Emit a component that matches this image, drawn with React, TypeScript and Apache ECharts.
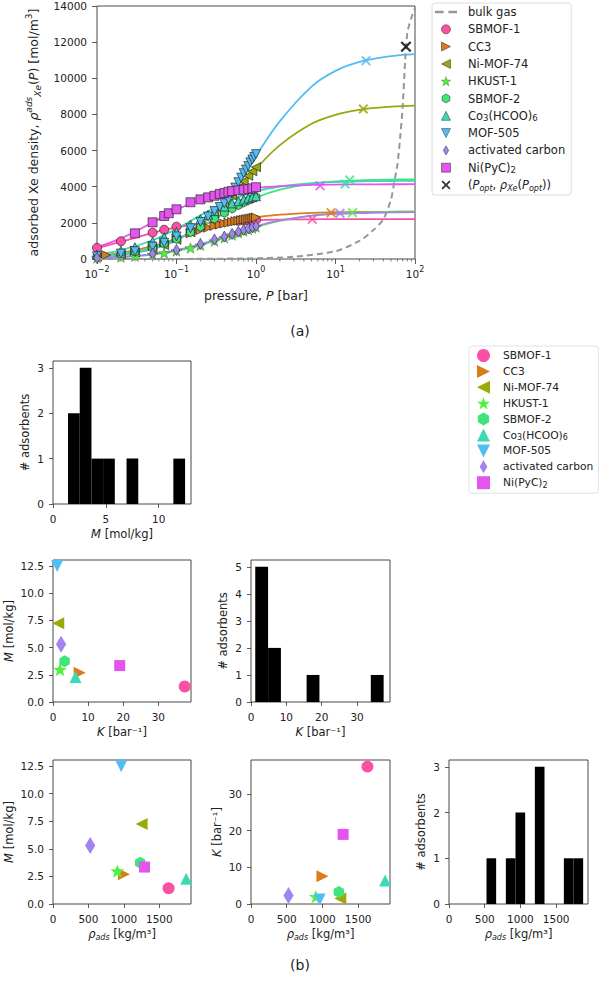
import React, { useEffect, useRef } from 'react';
import * as echarts from 'echarts';

const FONT = 'DejaVu Sans';
const TXT = '#222';

// ---------- materials ----------
const materials = ['SBMOF-1', 'CC3', 'Ni-MOF-74', 'HKUST-1', 'SBMOF-2', 'Co₃(HCOO)₆', 'MOF-505', 'activated carbon', 'Ni(PyC)₂'];
const colors = ['#fc4fa6', '#db7c1b', '#9aa80a', '#4ef23b', '#3fe47c', '#3bd9b5', '#52bdf3', '#a283f0', '#e454ee'];
const bulkColor = '#8e9b9b';

// ---------- (a) measured isotherms [bar], [mol/m3] ----------
const pSBMOF1 = [0.01, 0.02, 0.05, 0.07, 0.1, 0.6, 0.7, 0.8, 0.9, 1.0];
const vSBMOF1 = [620, 980, 1460, 1620, 1790, 2110, 2125, 2140, 2150, 2160];
const pCC3 = [0.013, 0.03, 0.05, 0.07, 0.1, 0.15, 0.2, 0.25, 0.3, 0.35, 0.4, 0.45, 0.5, 0.55, 0.6, 0.65, 0.7, 0.75, 0.8, 0.85, 0.9, 0.95, 1.0];
const vCC3 = [220, 470, 730, 910, 1150, 1420, 1600, 1730, 1830, 1900, 1960, 2010, 2050, 2090, 2120, 2150, 2180, 2200, 2220, 2240, 2260, 2280, 2300];
const pNiMOF74 = [0.01, 0.02, 0.03, 0.05, 0.07, 0.1, 0.15, 0.2, 0.3, 0.4, 0.5, 0.6, 0.7, 0.8, 0.9, 1.0];
const vNiMOF74 = [120, 240, 350, 560, 770, 1060, 1480, 1860, 2500, 3050, 3520, 3930, 4300, 4600, 4850, 5080];
const pHKUST1 = [0.01, 0.02, 0.03, 0.05, 0.07, 0.1, 0.15, 0.2, 0.3, 0.4, 0.5, 0.6, 0.7, 0.8, 0.9, 1.0];
const vHKUST1 = [55, 105, 150, 245, 330, 445, 610, 760, 990, 1170, 1320, 1445, 1545, 1630, 1700, 1765];
const pSBMOF2 = [0.01, 0.02, 0.03, 0.05, 0.07, 0.1, 0.15, 0.2, 0.3, 0.4, 0.5, 0.6, 0.7, 0.8, 0.9, 1.0];
const vSBMOF2 = [140, 270, 400, 630, 840, 1110, 1480, 1780, 2230, 2550, 2790, 2980, 3120, 3240, 3340, 3430];
const pCo3 = [0.01, 0.02, 0.03, 0.05, 0.07, 0.1, 0.15, 0.2, 0.25, 0.3, 0.4, 0.5, 0.6, 0.7, 0.8, 0.9, 1.0];
const vCo3 = [250, 460, 650, 960, 1200, 1500, 1900, 2200, 2450, 2650, 2900, 3080, 3200, 3290, 3360, 3420, 3470];
const pMOF505 = [0.01, 0.02, 0.03, 0.05, 0.07, 0.1, 0.15, 0.2, 0.25, 0.3, 0.35, 0.4, 0.45, 0.5, 0.55, 0.6, 0.65, 0.7, 0.75, 0.8, 0.85, 0.9, 0.95, 1.0];
const vMOF505 = [150, 300, 430, 680, 900, 1250, 1700, 2050, 2350, 2650, 2880, 3080, 3300, 3650, 3950, 4250, 4500, 4750, 4950, 5150, 5350, 5500, 5650, 5800];
const pAC = [0.01, 0.05, 0.1, 0.2, 0.3, 0.4, 0.5, 0.6, 0.7, 0.8, 0.9, 1.0];
const vAC = [60, 300, 500, 830, 1080, 1240, 1390, 1510, 1610, 1690, 1760, 1830];
const pNiPyC2 = [0.03, 0.05, 0.07, 0.08, 0.1, 0.15, 0.2, 0.25, 0.3, 0.35, 0.4, 0.45, 0.5, 0.6, 0.7, 0.8, 0.9, 1.0];
const vNiPyC2 = [1420, 2030, 2380, 2530, 2750, 3140, 3300, 3410, 3500, 3600, 3650, 3720, 3760, 3800, 3835, 3870, 3910, 3970];

// ---------- (a) Langmuir fit curves ----------
const fitP = [0.01, 0.02, 0.05, 0.1, 0.2, 0.5, 1, 2, 5, 10, 20, 50, 100];
const fitSBMOF1 = [603, 947, 1441, 1745, 1950, 2098, 2153, 2181, 2198, 2204, 2207, 2209, 2210];
const fitCC3 = [183, 342, 715, 1123, 1572, 2068, 2312, 2456, 2552, 2586, 2603, 2613, 2617];
const fitNiMOF74 = [118, 233, 559, 1050, 1870, 3521, 4988, 6300, 7481, 7980, 8255, 8430, 8489];
const fitHKUST1 = [52, 102, 240, 440, 754, 1320, 1760, 2112, 2400, 2514, 2576, 2614, 2627];
const fitSBMOF2 = [141, 274, 626, 1097, 1757, 2752, 3392, 3838, 4168, 4290, 4354, 4393, 4407];
const fitCo3 = [257, 485, 1037, 1674, 2414, 3287, 3737, 4012, 4197, 4262, 4296, 4316, 4323];
const fitMOF505 = [113, 225, 545, 1041, 1908, 3817, 5725, 7633, 9542, 10409, 10905, 11225, 11337];
const fitAC = [58, 114, 268, 486, 819, 1391, 1812, 2136, 2392, 2492, 2545, 2578, 2589];
const fitNiPyC2 = [661, 1140, 2017, 2712, 3278, 3746, 3933, 4034, 4097, 4118, 4129, 4136, 4138];

// ---------- (a) optimum points and bulk gas ----------
const optP = [5.1, 8.8, 22.4, 16.4, 15.1, 13.2, 24.2, 11.4, 6.4];
const optV = [2195, 2565, 8300, 2565, 4370, 4150, 10975, 2530, 4060];
const bulkOpt = [77, 11750];
const bulkP = [0.01, 0.1, 1, 3, 10, 20, 30, 40, 50, 55, 60, 65, 70, 75, 80, 85, 90, 100];
const bulkV = [0.4, 4, 41, 125, 430, 1000, 1600, 2200, 3300, 4300, 5200, 6700, 8430, 10900, 12500, 13000, 13350, 13900];
const xTickExps = ['−2', '−1', '0', '1', '2'];

// ---------- (b) adsorbent properties ----------
const M_vals = [1.42, 2.69, 7.25, 2.99, 3.74, 2.29, 12.5, 5.3, 3.35];      // mol/kg
const K_vals = [37.5, 7.6, 1.5, 2.0, 3.3, 6.4, 1.2, 2.3, 19.0];           // 1/bar
const rho_vals = [1630, 1000, 1250, 908, 1230, 1878, 962, 525, 1290];     // kg/m3

const mEdges = [1.42, 2.53, 3.64, 4.74, 5.85, 6.96, 8.07, 9.17, 10.28, 11.39, 12.5];
const mCounts = [2, 3, 1, 1, 0, 1, 0, 0, 0, 1];
const kEdges = [1.2, 4.83, 8.46, 12.09, 15.72, 19.35, 22.98, 26.61, 30.24, 33.87, 37.5];
const kCounts = [5, 2, 0, 0, 1, 0, 0, 0, 0, 1];
const rhoEdges = [525, 660, 796, 931, 1066, 1202, 1337, 1472, 1608, 1743, 1878];
const rhoCounts = [1, 0, 1, 2, 0, 3, 0, 0, 1, 1];

const mTicksHist = [0, 5, 10];
const mTicksScatter = [0, 2.5, 5, 7.5, 10, 12.5];
const kTicks = [0, 10, 20, 30];
const rhoTicks = [0, 500, 1000, 1500];
const countTicks3 = [0, 1, 2, 3];
const countTicks5 = [0, 1, 2, 3, 4, 5];

// ---------- symbols ----------
const SYM_RIGHT = 'path://M0,0L10,5L0,10Z';
const SYM_LEFT = 'path://M10,0L0,5L10,10Z';
const SYM_DOWN = 'path://M0,0L10,0L5,10Z';
const SYM_UP = 'path://M5,0L10,10L0,10Z';
const SYM_SQUARE = 'path://M0,0L10,0L10,10L0,10Z';
const SYM_STAR = 'path://M5,0L6.18,3.38L9.76,3.45L6.9,5.62L7.94,9.05L5,7L2.06,9.05L3.1,5.62L0.24,3.45L3.82,3.38Z';
const SYM_HEX = 'path://M5,0L9.33,2.5L9.33,7.5L5,10L0.67,7.5L0.67,2.5Z';
const SYM_DIAMOND = 'path://M3,0L6,5L3,10L0,5Z';
const SYM_X = 'path://M0,1.4L1.4,0L5,3.6L8.6,0L10,1.4L6.4,5L10,8.6L8.6,10L5,6.4L1.4,10L0,8.6L3.6,5Z';
const SYM_DASH = 'path://M0,0L9,0L9,2.6L0,2.6Z M14,0L23,0L23,2.6L14,2.6Z';
const symbols = ['circle', SYM_RIGHT, SYM_LEFT, SYM_STAR, SYM_HEX, SYM_UP, SYM_DOWN, SYM_DIAMOND, SYM_SQUARE];
const topSizes = [9, 9, 9, 11, 9, 9, 9, 11, 9];
const topBorders = [0.7, 0.7, 0.7, 0.35, 0.7, 0.7, 0.7, 0.6, 0.7];
const botSizes = [12, 12, 12, 14, 12, 12, 12, 17, 11];

const isoP = [pSBMOF1, pCC3, pNiMOF74, pHKUST1, pSBMOF2, pCo3, pMOF505, pAC, pNiPyC2];
const isoV = [vSBMOF1, vCC3, vNiMOF74, vHKUST1, vSBMOF2, vCo3, vMOF505, vAC, vNiPyC2];
const fits = [fitSBMOF1, fitCC3, fitNiMOF74, fitHKUST1, fitSBMOF2, fitCo3, fitMOF505, fitAC, fitNiPyC2];

const RICH: any = {
  i: { fontStyle: 'italic', fontFamily: FONT },
  sub: { fontStyle: 'italic', fontFamily: FONT, fontSize: 8, lineHeight: 8, verticalAlign: 'bottom' },
};

// legend label with real subscripts
function legendLabel(name: string): string {
  return name
    .replace('₃', '{d|3}')
    .replace('₆', '{d|6}')
    .replace('₂', '{d|2}');
}

function valueAxis(gi: number, min: number, max: number, ticks: number[], name: string, nameGap: number, fmt?: (v: number) => string) {
  return {
    type: 'value', gridIndex: gi, min, max,
    axisLine: { show: false }, splitLine: { show: false },
    axisTick: { show: true, length: 4, customValues: ticks, lineStyle: { color: '#333', width: 0.8 } },
    axisLabel: {
      show: true, customValues: ticks, margin: 9, color: TXT, fontFamily: FONT, fontSize: 10.5,
      formatter: fmt ? (v: number) => fmt(v) : (v: number) => String(v),
    },
    name, nameLocation: 'middle', nameGap,
    nameTextStyle: { color: TXT, fontFamily: FONT, fontSize: 11.5, lineHeight: 15, rich: RICH },
  };
}

function histSeries(ai: number, edges: number[], counts: number[]) {
  return {
    type: 'custom', xAxisIndex: ai, yAxisIndex: ai, silent: true, z: 2,
    data: counts.map((c, i) => [edges[i], edges[i + 1], c]),
    encode: { x: [0, 1], y: 2 },
    renderItem: (params: any, api: any) => {
      const p0 = api.coord([api.value(0), api.value(2)]);
      const p1 = api.coord([api.value(1), 0]);
      return { type: 'rect', shape: { x: p0[0], y: p0[1], width: p1[0] - p0[0], height: p1[1] - p0[1] }, style: { fill: '#000' } };
    },
  };
}

function scatterSet(ai: number, xs: number[], ys: number[]) {
  return materials.map((m, i) => ({
    type: 'scatter', name: 'b:' + m, xAxisIndex: ai, yAxisIndex: ai, silent: true, clip: true, z: 3,
    data: [[xs[i], ys[i]]], symbol: symbols[i], symbolSize: botSizes[i], symbolKeepAspect: true,
    itemStyle: { color: colors[i], opacity: 1 },
  }));
}

function buildOption(): any {
  const grids = [
    { left: 97, top: 6, width: 318, height: 253 },
    { left: 53, top: 361, width: 138, height: 143 },
    { left: 53, top: 560, width: 138, height: 142 },
    { left: 251, top: 560, width: 139, height: 142 },
    { left: 53, top: 760, width: 138, height: 144 },
    { left: 251, top: 760, width: 139, height: 144 },
    { left: 449, top: 760, width: 139, height: 144 },
  ].map((g) => ({ ...g, show: true, borderColor: '#333', borderWidth: 0.9, backgroundColor: 'transparent' }));

  const mMax = 13.06, kMax = 39.3, rhoMax = 1946;
  const f1 = (v: number) => v.toFixed(1);

  const xAxes: any[] = [
    {
      type: 'log', logBase: 10, gridIndex: 0, min: 0.01, max: 100,
      axisLine: { show: false }, splitLine: { show: false }, minorTick: { show: false },
      axisTick: { show: true, length: 5, lineStyle: { color: '#333', width: 0.8 } },
      axisLabel: {
        margin: 6, color: TXT, fontFamily: FONT, fontSize: 10.5,
        formatter: (v: number) => {
          const e = Math.round(Math.log10(v));
          return '{b|10}{s|' + (xTickExps[e + 2] || '') + '}';
        },
        rich: {
          b: { fontSize: 10.5, lineHeight: 17, fontFamily: FONT, color: TXT },
          s: { fontSize: 8, lineHeight: 9, verticalAlign: 'top', fontFamily: FONT, color: TXT },
        },
      },
      name: 'pressure, {i|P} [bar]', nameLocation: 'middle', nameGap: 28,
      nameTextStyle: { color: TXT, fontFamily: FONT, fontSize: 12.5, lineHeight: 16, rich: { i: { fontStyle: 'italic', fontFamily: FONT, fontSize: 12.5 } } },
    },
    valueAxis(1, 0, mMax, mTicksHist, '{i|M} [mol/kg]', 22),
    valueAxis(2, 0, kMax, kTicks, '{i|K} [bar⁻¹]', 22),
    valueAxis(3, 0, kMax, kTicks, '{i|K} [bar⁻¹]', 22),
    valueAxis(4, 0, rhoMax, rhoTicks, '{i|ρ}{sub|ads} [kg/m³]', 22),
    valueAxis(5, 0, rhoMax, rhoTicks, '{i|ρ}{sub|ads} [kg/m³]', 22),
    valueAxis(6, 0, rhoMax, rhoTicks, '{i|ρ}{sub|ads} [kg/m³]', 22),
  ];

  const yAxes: any[] = [
    {
      type: 'value', gridIndex: 0, min: 0, max: 14000, interval: 2000,
      axisLine: { show: false }, splitLine: { show: false },
      axisTick: { show: true, length: 5, lineStyle: { color: '#333', width: 0.8 } },
      axisLabel: { margin: 10, color: TXT, fontFamily: FONT, fontSize: 10.5, formatter: (v: number) => String(v) },
      name: 'adsorbed Xe density, {i|ρ}{sup|ads}{sub|Xe}({i|P}) [mol/m{supn|3}]', nameLocation: 'middle', nameGap: 52,
      nameTextStyle: {
        color: TXT, fontFamily: FONT, fontSize: 12.5, lineHeight: 18,
        rich: {
          i: { fontStyle: 'italic', fontFamily: FONT, fontSize: 12.5 },
          sup: { fontStyle: 'italic', fontFamily: FONT, fontSize: 9, lineHeight: 9, verticalAlign: 'top' },
          sub: { fontStyle: 'italic', fontFamily: FONT, fontSize: 9, lineHeight: 9, verticalAlign: 'bottom' },
          supn: { fontFamily: FONT, fontSize: 9, lineHeight: 9, verticalAlign: 'top' },
        },
      },
    },
    valueAxis(1, 0, 3.15, countTicks3, '# adsorbents', 21),
    valueAxis(2, 0, mMax, mTicksScatter, '{i|M} [mol/kg]', 37, f1),
    valueAxis(3, 0, 5.25, countTicks5, '# adsorbents', 21),
    valueAxis(4, 0, mMax, mTicksScatter, '{i|M} [mol/kg]', 37, f1),
    valueAxis(5, 0, kMax, kTicks, '{i|K} [bar⁻¹]', 27),
    valueAxis(6, 0, 3.15, countTicks3, '# adsorbents', 21),
  ];

  const minorTicks: number[][] = [];
  [0.01, 0.1, 1, 10].forEach((d) => { for (let k = 2; k <= 9; k++) minorTicks.push([d * k, 0]); });

  const series: any[] = [];
  materials.forEach((m, i) => {
    series.push({
      type: 'line', name: 'fit ' + m, xAxisIndex: 0, yAxisIndex: 0, silent: true, z: 2,
      data: fitP.map((p, j) => [p, fits[i][j]]), symbol: 'none', smooth: 0.4,
      lineStyle: { color: colors[i], width: 1.8 }, itemStyle: { color: colors[i] },
    });
  });
  materials.forEach((m, i) => {
    series.push({
      type: 'scatter', name: m, xAxisIndex: 0, yAxisIndex: 0, silent: true, z: 3,
      data: isoP[i].map((p, j) => [p, isoV[i][j]]), symbol: symbols[i], symbolSize: topSizes[i], symbolKeepAspect: true,
      itemStyle: { color: colors[i], borderColor: '#2a2a2a', borderWidth: topBorders[i], opacity: 1 },
    });
  });
  materials.forEach((m, i) => {
    series.push({
      type: 'scatter', name: 'opt ' + m, xAxisIndex: 0, yAxisIndex: 0, silent: true, z: 5,
      data: [[optP[i], optV[i]]], symbol: SYM_X, symbolSize: 10, itemStyle: { color: colors[i] },
    });
  });
  series.push({
    type: 'line', name: 'bulk gas', xAxisIndex: 0, yAxisIndex: 0, silent: true, z: 4,
    data: bulkP.map((p, j) => [p, bulkV[j]]), symbol: 'none', smooth: 0.25,
    lineStyle: { color: bulkColor, width: 2, type: [6, 4] }, itemStyle: { color: bulkColor },
  });
  series.push({
    type: 'scatter', name: 'opt', xAxisIndex: 0, yAxisIndex: 0, silent: true, z: 6,
    data: [bulkOpt], symbol: SYM_X, symbolSize: 11, itemStyle: { color: '#000' },
  });
  series.push({
    type: 'custom', xAxisIndex: 0, yAxisIndex: 0, silent: true, z: 1, clip: false,
    data: minorTicks, encode: { x: 0, y: 1 },
    renderItem: (params: any, api: any) => {
      const p = api.coord([api.value(0), 0]);
      return { type: 'line', shape: { x1: p[0], y1: p[1], x2: p[0], y2: p[1] + 2.5 }, style: { stroke: '#333', lineWidth: 0.6 } };
    },
  });

  series.push(histSeries(1, mEdges, mCounts));
  series.push(...scatterSet(2, K_vals, M_vals));
  series.push(histSeries(3, kEdges, kCounts));
  series.push(...scatterSet(4, rho_vals, M_vals));
  series.push(...scatterSet(5, rho_vals, K_vals));
  series.push(histSeries(6, rhoEdges, rhoCounts));

  const legendRich = {
    i: { fontStyle: 'italic', fontFamily: FONT, fontSize: 11.5, lineHeight: 14 },
    s: { fontStyle: 'italic', fontFamily: FONT, fontSize: 8, lineHeight: 8, verticalAlign: 'bottom' },
    d: { fontFamily: FONT, fontSize: 8.5, lineHeight: 8, verticalAlign: 'bottom' },
  };
  const legendRichB = {
    d: { fontFamily: FONT, fontSize: 8, lineHeight: 8, verticalAlign: 'bottom' },
  };

  const topLegendData: any[] = [
    { name: 'bulk gas', icon: SYM_DASH, itemStyle: { color: bulkColor, borderWidth: 0 } },
    ...materials.map((m, i) => ({
      name: m, icon: symbols[i],
      itemStyle: { color: colors[i], borderColor: '#2a2a2a', borderWidth: i === 3 ? 0.3 : 0.5 },
    })),
    { name: 'opt', icon: SYM_X, itemStyle: { color: '#000', borderWidth: 0 } },
  ];
  const botLegendData: any[] = materials.map((m, i) => ({
    name: 'b:' + m, icon: symbols[i], itemStyle: { color: colors[i], borderWidth: 0 },
  }));

  return {
    animation: false,
    backgroundColor: '#fff',
    grid: grids,
    xAxis: xAxes,
    yAxis: yAxes,
    legend: [
      {
        left: 432, top: 3, orient: 'vertical', selectedMode: false,
        itemWidth: 22, itemHeight: 9, itemGap: 3.3, symbolKeepAspect: true,
        data: topLegendData,
        formatter: (name: string) => (name === 'opt' ? '({i|P}{s|opt}, {i|ρ}{s|Xe}({i|P}{s|opt}))' : legendLabel(name)),
        textStyle: { color: TXT, fontFamily: FONT, fontSize: 11.5, lineHeight: 14, padding: [0, 0, 0, 6], rich: legendRich },
        borderColor: '#dcdcdc', borderWidth: 1, borderRadius: 3, padding: [2, 6, 3, 3], backgroundColor: '#fff',
      },
      {
        left: 469, top: 346, orient: 'vertical', selectedMode: false,
        itemWidth: 13, itemHeight: 13, itemGap: 2.9, symbolKeepAspect: true,
        data: botLegendData,
        formatter: (name: string) => legendLabel(name.replace(/^b:/, '')),
        textStyle: { color: TXT, fontFamily: FONT, fontSize: 10.7, lineHeight: 13, padding: [0, 0, 0, 8], rich: legendRichB },
        borderColor: '#e2e2e2', borderWidth: 1, borderRadius: 3, padding: [3, 5, 4, 8], backgroundColor: '#fff',
      },
    ],
    graphic: [
      { type: 'text', left: 'center', top: 324, style: { text: '(a)', fontFamily: FONT, fontSize: 14, fill: TXT } },
      { type: 'text', left: 'center', top: 958, style: { text: '(b)', fontFamily: FONT, fontSize: 14, fill: TXT } },
    ],
    series,
  };
}

export default function App() {
  const ref = useRef<HTMLDivElement>(null);
  useEffect(() => {
    if (!ref.current) return;
    const chart = echarts.init(ref.current, null, { renderer: 'svg' });
    chart.setOption(buildOption());
    return () => chart.dispose();
  }, []);
  return <div ref={ref} style={{ position: 'absolute', left: 0, top: 0, width: 600, height: 981, background: '#fff' }} />;
}
